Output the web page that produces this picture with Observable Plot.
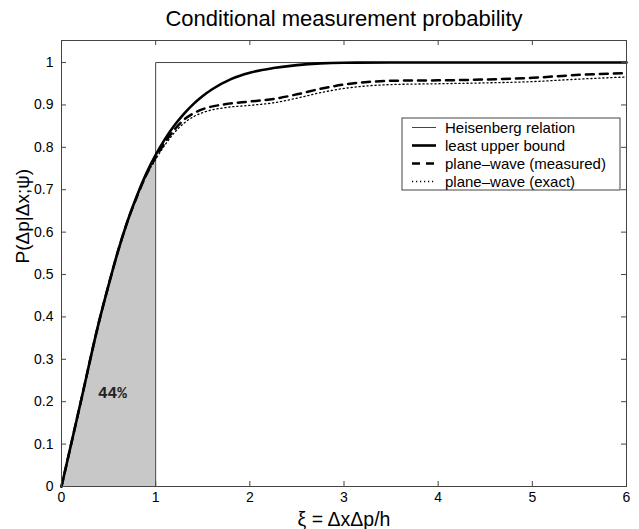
<!DOCTYPE html>
<html><head><meta charset="utf-8">
<script src="https://cdn.jsdelivr.net/npm/d3@7"></script>
<script src="https://cdn.jsdelivr.net/npm/@observablehq/plot@0.6"></script>
<style>body{margin:0;background:#fff}</style>
</head><body><div id="chart"></div>
<script>
// ---- data ----
const solidX = [0,0.2,0.4,0.5,0.6,0.7,0.8,0.9,1.0,1.1,1.2,1.3,1.4,1.5,1.6,1.8,2.0,2.25,2.5,2.75,3,3.5,4,5,6];
const solidY = [0,0.195,0.39,0.475,0.555,0.625,0.685,0.738,0.782,0.82,0.852,0.879,0.902,0.921,0.937,0.961,0.976,0.987,0.994,0.998,0.9995,1,1,1,1];
const planeX = [0,0.2,0.4,0.5,0.6,0.7,0.8,0.9,1.0,1.1,1.2,1.3,1.4,1.5,1.75,2.0,2.25,2.5,2.75,3.0,3.25,3.5,4,4.5,5,5.5,6];
const measuredY = [0,0.195,0.39,0.475,0.555,0.625,0.683,0.735,0.776,0.812,0.842,0.865,0.88,0.89,0.902,0.908,0.914,0.925,0.938,0.948,0.954,0.957,0.958,0.96,0.964,0.971,0.975];
const exactY = [0,0.195,0.39,0.475,0.555,0.625,0.683,0.733,0.772,0.806,0.835,0.857,0.872,0.882,0.894,0.899,0.905,0.916,0.929,0.939,0.945,0.948,0.95,0.952,0.955,0.961,0.966];
const heisX = [0,1,1,6];
const heisY = [0,0,1,1];
const shadeLimit = 1;
const shadeLabel = "44%";
const shadeLabelX = 0.54;
const shadeLabelY = 0.22;
const xTicks = [0,1,2,3,4,5,6];
const xTickLabels = ["0","1","2","3","4","5","6"];
const yTicks = [0,0.1,0.2,0.3,0.4,0.5,0.6,0.7,0.8,0.9,1];
const yTickLabels = ["0","0.1","0.2","0.3","0.4","0.5","0.6","0.7","0.8","0.9","1"];
const title = "Conditional measurement probability";
const xLabel = "ξ = ΔxΔp/h";
const yLabel = "P(Δp|Δx;ψ)";
const seriesNames = ["Heisenberg relation","least upper bound","plane–wave (measured)","plane–wave (exact)"];

// ---- tables ----
const solid = solidX.map((x,i)=>({x, y: solidY[i]}));
const shade = solid.filter(d => d.x <= shadeLimit);
const measured = planeX.map((x,i)=>({x, y: measuredY[i]}));
const exact = planeX.map((x,i)=>({x, y: exactY[i]}));
const heis = heisX.map((x,i)=>({x, y: heisY[i]}));

const W = 639, H = 529, mL = 61, mR = 13, mT = 40, mB = 43;
const innerW = W - mL - mR, innerH = H - mT - mB;
const tickLen = 5;
const axisColor = "#444";
const font = "'Liberation Sans', Arial, Helvetica, sans-serif";

const styles = [
  {stroke: axisColor, strokeWidth: 1, dash: null},
  {stroke: "#000", strokeWidth: 2.6, dash: null},
  {stroke: "#000", strokeWidth: 2.5, dash: "8,6"},
  {stroke: "#000", strokeWidth: 1.3, dash: "1.2,2.8"}
];

const plot = Plot.plot({
  width: W, height: H,
  marginLeft: mL, marginRight: mR, marginTop: mT, marginBottom: mB,
  style: {fontFamily: font, background: "#fff", color: "#000"},
  x: {domain: [0, 6]},
  y: {domain: [0, 1.052]},
  marks: [
    Plot.areaY(shade, {x: "x", y: "y", fill: "#c8c8c8", curve: "monotone-x"}),
    Plot.line(heis, {x: "x", y: "y", stroke: styles[0].stroke, strokeWidth: styles[0].strokeWidth}),
    Plot.line(exact, {x: "x", y: "y", stroke: styles[3].stroke, strokeWidth: styles[3].strokeWidth, strokeDasharray: styles[3].dash, curve: "monotone-x"}),
    Plot.line(measured, {x: "x", y: "y", stroke: styles[2].stroke, strokeWidth: styles[2].strokeWidth, strokeDasharray: styles[2].dash, curve: "monotone-x"}),
    Plot.line(solid, {x: "x", y: "y", stroke: styles[1].stroke, strokeWidth: styles[1].strokeWidth, curve: "monotone-x"}),
    Plot.text([shadeLabel], {x: shadeLabelX, y: shadeLabelY, text: d => d, fontFamily: "'Liberation Mono', 'Courier New', monospace", fontWeight: "bold", fontSize: 16, fill: "#222"}),
    Plot.frame({stroke: axisColor}),
    Plot.tickX(xTicks, {x: d => d, insetTop: innerH - tickLen, stroke: axisColor}),
    Plot.tickX(xTicks, {x: d => d, insetBottom: innerH - tickLen, stroke: axisColor}),
    Plot.tickY(yTicks, {y: d => d, insetRight: innerW - tickLen, stroke: axisColor}),
    Plot.tickY(yTicks, {y: d => d, insetLeft: innerW - tickLen, stroke: axisColor}),
    Plot.axisX({ticks: xTicks, tickSize: 0, tickPadding: 6, fontSize: 14, label: null, tickFormat: (d, i) => xTickLabels[i]}),
    Plot.axisY({ticks: yTicks, tickSize: 0, tickPadding: 8, fontSize: 14, label: null, tickFormat: (d, i) => yTickLabels[i]}),
    Plot.text([title], {frameAnchor: "top", dy: -22, fontSize: 22, lineAnchor: "middle", text: d => d}),
    Plot.text([xLabel], {frameAnchor: "bottom", dy: 33, fontSize: 19.5, lineAnchor: "middle", text: d => d}),
    Plot.text([yLabel], {frameAnchor: "left", dx: -39, rotate: -90, fontSize: 19, lineAnchor: "middle", text: d => d})
  ]
});
document.getElementById("chart").appendChild(plot);

// ---- legend ----
const svg = d3.select(plot);
const lg = svg.append("g").attr("font-family", font).attr("font-size", 15).attr("text-anchor", "start");
const bx = 402, by = 118, bw = 218, bh = 72, rowH = 18;
lg.append("rect").attr("x", bx).attr("y", by).attr("width", bw).attr("height", bh)
  .attr("fill", "#fff").attr("stroke", axisColor).attr("stroke-width", 1);
seriesNames.forEach((name, i) => {
  const cy = by + 9.5 + i * rowH;
  const s = styles[i];
  lg.append("line").attr("x1", bx + 10).attr("x2", bx + 34).attr("y1", cy).attr("y2", cy)
    .attr("stroke", s.stroke).attr("stroke-width", s.strokeWidth)
    .attr("stroke-dasharray", s.dash);
  lg.append("text").attr("x", bx + 43).attr("y", cy).attr("dy", "0.35em").attr("fill", "#000").attr("text-anchor", "start").text(name);
});
</script>
</body></html>
